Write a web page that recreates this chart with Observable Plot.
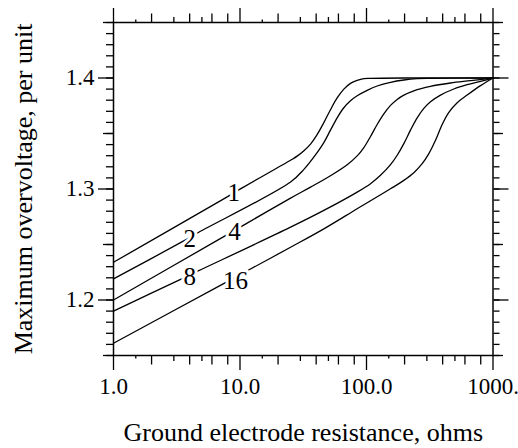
<!DOCTYPE html>
<html><head><meta charset="utf-8">
<script src="https://cdn.jsdelivr.net/npm/d3@7"></script>
<script src="https://cdn.jsdelivr.net/npm/@observablehq/plot@0.6"></script>
<style>body{margin:0;background:#fff;} svg{display:block}</style>
</head><body><div id="chart"></div>
<script>
// Curve names (labels drawn on the curves)
const seriesNames = ["1", "2", "4", "8", "16"];

// Ground electrode resistance (ohms) and maximum overvoltage (per unit) for each curve
const r1 = [1, 7.68, 10.4, 25.1, 28.3, 32.0, 36.1, 40.7, 46.0, 51.9, 58.6, 66.2, 74.7, 84.4, 95.3, 107.6, 200, 1000];
const v1 = [1.234, 1.292, 1.301, 1.3259, 1.3296, 1.3345, 1.3405, 1.3490, 1.3598, 1.3714, 1.3820, 1.3900, 1.3952, 1.3979, 1.3994, 1.3997, 1.400, 1.400];

const r2 = [1, 3.56, 4.72, 25.1, 32.0, 40.7, 46.0, 51.9, 58.6, 66.2, 74.7, 84.4, 101.2, 121.4, 154.8, 197.3, 251.5, 320.6, 1000];
const v2 = [1.219, 1.253, 1.261, 1.3063, 1.3177, 1.3328, 1.3418, 1.3530, 1.3641, 1.3732, 1.3795, 1.3840, 1.3889, 1.3928, 1.3961, 1.3982, 1.3994, 1.3997, 1.400];

const r4 = [1, 7.68, 10.7, 25.1, 36.1, 51.9, 70.4, 84.4, 95.3, 107.6, 121.4, 137.1, 154.8, 174.8, 197.3, 236.7, 320.6, 461.3, 663.9, 1000];
const v4 = [1.200, 1.258, 1.2675, 1.2918, 1.3017, 1.3120, 1.3219, 1.3298, 1.3373, 1.3473, 1.3581, 1.3677, 1.3753, 1.3807, 1.3846, 1.3885, 1.3925, 1.3955, 1.3976, 1.400];

const r8 = [1, 3.49, 4.72, 25.1, 46.0, 84.4, 107.6, 129.0, 154.8, 174.8, 197.3, 222.7, 251.5, 284.0, 320.6, 384.6, 490.2, 625.0, 796.9, 1000];
const v8 = [1.190, 1.2193, 1.2264, 1.2656, 1.2807, 1.2972, 1.3048, 1.3123, 1.3219, 1.3304, 1.3409, 1.3530, 1.3641, 1.3726, 1.3786, 1.3846, 1.3901, 1.3940, 1.3970, 1.400];

const r16 = [1, 7.0, 11.7, 25.1, 46.0, 84.4, 154.8, 197.3, 236.7, 275.5, 311.1, 351.2, 396.5, 447.7, 521.1, 625.0, 796.9, 1000];
const v16 = [1.161, 1.2132, 1.227, 1.2475, 1.2641, 1.2822, 1.3002, 1.3078, 1.3147, 1.3228, 1.3319, 1.3439, 1.3581, 1.3690, 1.3777, 1.3846, 1.3931, 1.400];

// Curve label positions (resistance, overvoltage)
const labelR = [8.93, 4.01, 9.05, 4.01, 9.21];
const labelV = [1.296, 1.255, 1.261, 1.2203, 1.2167];

// Axis ticks and labels
const xMajorTicks = [1, 10, 100, 1000];
const xTickLabels = ["1.0", "10.0", "100.0", "1000."];
const xMediumTicks = [2, 4, 6, 8, 20, 40, 60, 80, 200, 400, 600, 800];
const xSmallTicks = [3, 5, 30, 50, 300, 500];
const xTinyTicks = [1.5, 15, 150];
const yMajorTicks = [1.2, 1.3, 1.4];
const yTickLabels = ["1.2", "1.3", "1.4"];
const yMidTicks = [1.15, 1.25, 1.35, 1.45];
const yMinorTicks = d3.range(115, 146).map(d => d / 100);

const xTitle = "Ground electrode resistance, ohms";
const yTitle = "Maximum overvoltage, per unit";

const Rs = [r1, r2, r4, r8, r16];
const Vs = [v1, v2, v4, v8, v16];
const data = [];
seriesNames.forEach((name, i) => Rs[i].forEach((r, j) => data.push({name, r, v: Vs[i][j]})));
const labels = seriesNames.map((name, i) => ({name, r: labelR[i], v: labelV[i]}));

const tickStyle = {stroke: "black", strokeWidth: 1.3, label: null};

const plot = Plot.plot({
  width: 518, height: 448,
  marginLeft: 113, marginRight: 25.5, marginTop: 22, marginBottom: 93,
  style: {fontFamily: "'Liberation Serif', 'Times New Roman', serif", fontSize: "23px", background: "white", color: "black"},
  x: {type: "log", domain: [1, 1000], axis: null},
  y: {domain: [1.15, 1.45], axis: null},
  marks: [
    // bottom axis
    Plot.axisX(xMajorTicks, {...tickStyle, anchor: "bottom", tickSize: 15, tickPadding: 7, fill: "black",
      tickFormat: d => xTickLabels[xMajorTicks.indexOf(d)]}),
    Plot.axisX(xMediumTicks, {...tickStyle, anchor: "bottom", tickSize: 9.5, fill: "none"}),
    Plot.axisX(xSmallTicks, {...tickStyle, anchor: "bottom", tickSize: 6, fill: "none"}),
    Plot.axisX(xTinyTicks, {...tickStyle, anchor: "bottom", tickSize: 3.5, fill: "none"}),
    // top axis
    Plot.axisX(xMajorTicks, {...tickStyle, anchor: "top", tickSize: 15, fill: "none"}),
    Plot.axisX(xMediumTicks, {...tickStyle, anchor: "top", tickSize: 9.5, fill: "none"}),
    Plot.axisX(xSmallTicks, {...tickStyle, anchor: "top", tickSize: 6, fill: "none"}),
    Plot.axisX(xTinyTicks, {...tickStyle, anchor: "top", tickSize: 3.5, fill: "none"}),
    // left axis
    Plot.axisY(yMinorTicks, {...tickStyle, anchor: "left", tickSize: 7, fill: "none"}),
    Plot.axisY(yMidTicks, {...tickStyle, anchor: "left", tickSize: 10, fill: "none"}),
    Plot.axisY(yMajorTicks, {...tickStyle, anchor: "left", tickSize: 15, tickPadding: 4, fill: "black",
      tickFormat: d => yTickLabels[yMajorTicks.indexOf(d)]}),
    // right axis
    Plot.axisY(yMinorTicks, {...tickStyle, anchor: "right", tickSize: 6, fill: "none"}),
    Plot.axisY(yMidTicks, {...tickStyle, anchor: "right", tickSize: 9.5, fill: "none"}),
    Plot.axisY(yMajorTicks, {...tickStyle, anchor: "right", tickSize: 15, fill: "none"}),
    Plot.frame({stroke: "black", strokeWidth: 1.5}),
    Plot.line(data, {x: "r", y: "v", z: "name", stroke: "black", strokeWidth: 1.3, curve: "catmull-rom"}),
    Plot.text(labels, {x: "r", y: "v", text: "name", fill: "black", stroke: "white", strokeWidth: 6, fontSize: 25}),
    Plot.text([yTitle], {text: d => d, frameAnchor: "left", textAnchor: "middle", lineAnchor: "middle", dx: -90, rotate: -90, fontSize: 26, fill: "black"}),
    Plot.text([xTitle], {text: d => d, frameAnchor: "bottom", textAnchor: "middle", lineAnchor: "middle", dy: 77, fontSize: 26, fill: "black"})
  ]
});
document.getElementById("chart").appendChild(plot);
</script>
</body></html>
